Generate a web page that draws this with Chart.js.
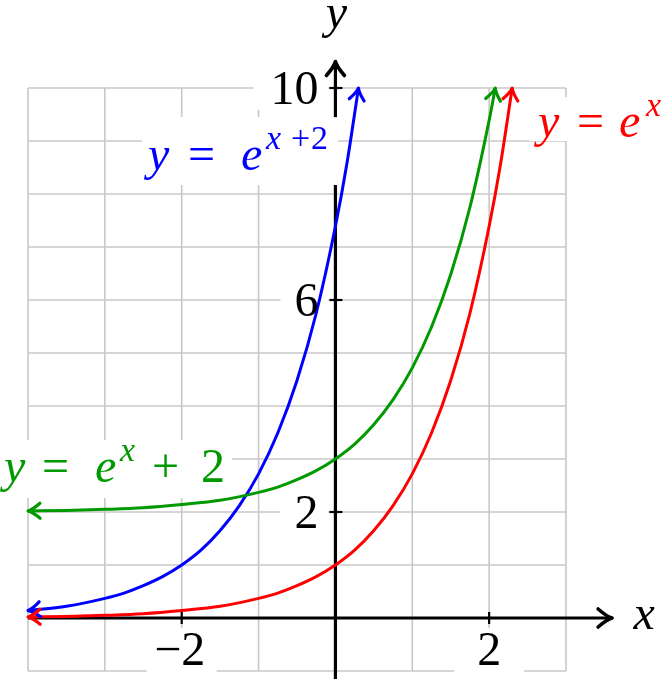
<!DOCTYPE html>
<html>
<head>
<meta charset="utf-8">
<script src="https://cdn.jsdelivr.net/npm/chart.js@4/dist/chart.umd.min.js"></script>
</head>
<body style="margin:0;background:#ffffff">
<div style="position:relative;width:671px;height:679px">
<div style="position:absolute;left:0;top:0;font:40px 'Liberation Serif';color:#ffffff">0123456789 <i>xye</i> = + &#8722;</div>
<canvas id="c" width="671" height="679" style="position:absolute;left:0;top:0"></canvas>
</div>
<script>
// ---- data ----
const redX   = [-4, -3.5, -3, -2.5, -2, -1.5, -1, -0.75, -0.5, -0.25, 0, 0.25, 0.5, 0.75, 1, 1.25, 1.5, 1.75, 2, 2.15, 2.3];
const redY   = [0.02, 0.03, 0.05, 0.08, 0.14, 0.22, 0.37, 0.47, 0.61, 0.78, 1.0, 1.28, 1.65, 2.12, 2.72, 3.49, 4.48, 5.75, 7.39, 8.58, 10.0];
const greenX = [-4, -3.5, -3, -2.5, -2, -1.5, -1, -0.75, -0.5, -0.25, 0, 0.25, 0.5, 0.75, 1, 1.25, 1.5, 1.75, 2, 2.08];
const greenY = [2.02, 2.03, 2.05, 2.08, 2.14, 2.22, 2.37, 2.47, 2.61, 2.78, 3.0, 3.28, 3.65, 4.12, 4.72, 5.49, 6.48, 7.75, 9.39, 10.0];
const blueX  = [-4, -3.5, -3, -2.75, -2.5, -2.25, -2, -1.75, -1.5, -1.25, -1, -0.75, -0.5, -0.25, 0, 0.15, 0.3];
const blueY  = [0.14, 0.22, 0.37, 0.47, 0.61, 0.78, 1.0, 1.28, 1.65, 2.12, 2.72, 3.49, 4.48, 5.75, 7.39, 8.58, 10.0];
const xTickLabels = [-2, 2];
const yTickLabels = [2, 6, 10];
const xRange = [-4, 3];
const yRange = [-1, 10];

const RED = '#ff0000', GREEN = '#009900', BLUE = '#0000ff';

function pts(xs, ys) { return xs.map((x, i) => ({ x: x, y: ys[i] })); }

// math labels: runs of [text, italic, superscript, offsetX]
const curveLabels = [
  { color: BLUE, box: [142, 117, 196, 68], x: 148, base: 170,
    runs: [['y', 1, 0, 0], ['=', 0, 0, 40], ['e', 1, 0, 93], ['x', 1, 1, 118], ['+', 0, 1, 143], ['2', 0, 1, 163]] },
  { color: RED, box: [529, 97, 142, 44], x: 538, base: 137,
    runs: [['y', 1, 0, 0], ['=', 0, 0, 39], ['e', 1, 0, 81], ['x', 1, 1, 108]] },
  { color: GREEN, box: [0, 440, 232, 58], x: 4, base: 482,
    runs: [['y', 1, 0, 0], ['=', 0, 0, 38], ['e', 1, 0, 91], ['x', 1, 1, 116], ['+', 0, 0, 148], ['2', 0, 0, 197]] }
];

let FAMILY = null;
function pickFamily(ctx) {
  if (FAMILY) return FAMILY;
  const sample = 'abcdefghijklmnop0123456789';
  ctx.save();
  ctx.font = '40px "DejaVu Sans"';
  const wSans = ctx.measureText(sample).width;
  const cands = ['"Liberation Serif"', "'Liberation Serif'", 'Liberation Serif', 'serif', '"Times New Roman"', '"DejaVu Serif"'];
  FAMILY = cands[0];
  for (const c of cands) {
    ctx.font = '40px ' + c;
    if (Math.abs(ctx.measureText(sample).width - wSans) > 2) { FAMILY = c; break; }
  }
  ctx.restore();
  return FAMILY;
}
function fnt(ctx, size, italic) { return (italic ? 'italic ' : '') + size + 'px ' + pickFamily(ctx); }

function drawArrowHead(ctx, tx, ty, dx, dy, color, L, W, lw) {
  const n = Math.hypot(dx, dy); dx /= n; dy /= n;
  const px = -dy, py = dx;
  ctx.save();
  ctx.strokeStyle = color; ctx.lineWidth = lw; ctx.lineCap = 'round'; ctx.lineJoin = 'round';
  ctx.beginPath();
  ctx.moveTo(tx - L * dx + W * px, ty - L * dy + W * py);
  ctx.quadraticCurveTo(tx - 0.35 * L * dx + 0.12 * W * px, ty - 0.35 * L * dy + 0.12 * W * py, tx, ty);
  ctx.quadraticCurveTo(tx - 0.35 * L * dx - 0.12 * W * px, ty - 0.35 * L * dy - 0.12 * W * py,
                       tx - L * dx - W * px, ty - L * dy - W * py);
  ctx.stroke();
  ctx.restore();
}

const mathPlugin = {
  id: 'mathPlot',
  beforeDatasetsDraw(chart) {
    const ctx = chart.ctx, xs = chart.scales.x, ys = chart.scales.y;
    const X = v => xs.getPixelForValue(v), Y = v => ys.getPixelForValue(v);
    ctx.save();
    ctx.fillStyle = '#ffffff';
    ctx.fillRect(0, 0, chart.width, chart.height);
    // grid
    ctx.strokeStyle = '#c8c8c8'; ctx.lineWidth = 1.6;
    for (let v = xRange[0]; v <= xRange[1]; v++) {
      ctx.beginPath(); ctx.moveTo(X(v), Y(yRange[0])); ctx.lineTo(X(v), Y(yRange[1])); ctx.stroke();
    }
    for (let v = yRange[0]; v <= yRange[1]; v++) {
      ctx.beginPath(); ctx.moveTo(X(xRange[0]), Y(v)); ctx.lineTo(X(xRange[1]), Y(v)); ctx.stroke();
    }
    // tick label backdrops
    ctx.fillStyle = '#ffffff';
    xTickLabels.forEach(v => { ctx.fillRect(X(v) - 35, Y(0) + 10, 70, 60); });
    yTickLabels.forEach(v => { ctx.fillRect(X(0) - (v >= 10 ? 82 : 55), Y(v) - 22, (v >= 10 ? 75 : 48), 44); });
    // curve label boxes
    curveLabels.forEach(l => ctx.fillRect(l.box[0], l.box[1], l.box[2], l.box[3]));
    // axes
    ctx.strokeStyle = '#000000'; ctx.lineWidth = 3.2; ctx.lineCap = 'butt';
    ctx.beginPath(); ctx.moveTo(X(xRange[0]), Y(0)); ctx.lineTo(X(3.58), Y(0)); ctx.stroke();
    ctx.beginPath(); ctx.moveTo(X(0), Y(-1.2)); ctx.lineTo(X(0), Y(8.17)); ctx.stroke();
    ctx.beginPath(); ctx.moveTo(X(0), Y(9.45)); ctx.lineTo(X(0), Y(10.47)); ctx.stroke();
    drawArrowHead(ctx, X(3.6), Y(0), 1, 0, '#000000', 14, 9, 3.6);
    drawArrowHead(ctx, X(0), Y(10.5), 0, -1, '#000000', 14, 9, 3.6);
    // tick marks
    ctx.lineWidth = 2.2;
    xTickLabels.forEach(v => { ctx.beginPath(); ctx.moveTo(X(v), Y(0) - 6); ctx.lineTo(X(v), Y(0) + 6); ctx.stroke(); });
    yTickLabels.forEach(v => { ctx.beginPath(); ctx.moveTo(X(0) - 6, Y(v)); ctx.lineTo(X(0) + 7, Y(v)); ctx.stroke(); });
    ctx.restore();
  },
  afterDatasetsDraw(chart) {
    const ctx = chart.ctx, xs = chart.scales.x, ys = chart.scales.y;
    const X = v => xs.getPixelForValue(v), Y = v => ys.getPixelForValue(v);
    chart.data.datasets.forEach(ds => {
      const d = ds.data, n = d.length;
      let a = d[n - 2], b = d[n - 1];
      drawArrowHead(ctx, X(b.x), Y(b.y), X(b.x) - X(a.x), Y(b.y) - Y(a.y), ds.borderColor, 12, 7.5, 3.2);
      a = d[1]; b = d[0];
      drawArrowHead(ctx, X(b.x), Y(b.y), X(b.x) - X(a.x), Y(b.y) - Y(a.y), ds.borderColor, 12, 7.5, 3.2);
    });
  },
  afterDraw(chart) {
    const ctx = chart.ctx, xs = chart.scales.x, ys = chart.scales.y;
    const X = v => xs.getPixelForValue(v), Y = v => ys.getPixelForValue(v);
    ctx.save();
    ctx.textBaseline = 'alphabetic';
    ctx.fillStyle = '#000000';
    ctx.font = fnt(ctx, 48, false);
    ctx.textAlign = 'center';
    xTickLabels.forEach(v => { ctx.fillText(v < 0 ? '\u2212' + Math.abs(v) : String(v), X(v) + (v < 0 ? -2 : 0), Y(0) + 47); });
    ctx.textAlign = 'right';
    yTickLabels.forEach(v => { ctx.fillText(String(v), X(0) - 17, Y(v) + 16); });
    ctx.textAlign = 'left';
    curveLabels.forEach(l => {
      ctx.fillStyle = l.color;
      l.runs.forEach(r => {
        ctx.font = fnt(ctx, r[2] ? 34 : 48, !!r[1]);
        ctx.fillText(r[0], l.x + r[3], l.base - (r[2] ? 21 : 0));
      });
    });
    ctx.fillStyle = '#000000';
    ctx.font = fnt(ctx, 48, true);
    ctx.textAlign = 'center';
    ctx.fillText('y', X(0) + 1, 28);
    ctx.fillText('x', X(3.6) + 32, Y(0) + 11);
    ctx.restore();
  }
};

new Chart(document.getElementById('c'), {
  type: 'line',
  data: {
    datasets: [
      { label: 'y = e^x + 2', data: pts(greenX, greenY), borderColor: GREEN, borderWidth: 3, pointRadius: 0, cubicInterpolationMode: 'monotone', fill: false },
      { label: 'y = e^(x+2)', data: pts(blueX, blueY), borderColor: BLUE, borderWidth: 3, pointRadius: 0, cubicInterpolationMode: 'monotone', fill: false },
      { label: 'y = e^x', data: pts(redX, redY), borderColor: RED, borderWidth: 3, pointRadius: 0, cubicInterpolationMode: 'monotone', fill: false }
    ]
  },
  options: {
    responsive: false,
    animation: false,
    layout: { padding: { left: 28, right: 105, top: 88, bottom: 8 } },
    scales: {
      x: { type: 'linear', min: xRange[0], max: xRange[1], display: false },
      y: { type: 'linear', min: yRange[0], max: yRange[1], display: false }
    },
    plugins: { legend: { display: false }, tooltip: { enabled: false } }
  },
  plugins: [mathPlugin]
});
</script>
</body>
</html>
